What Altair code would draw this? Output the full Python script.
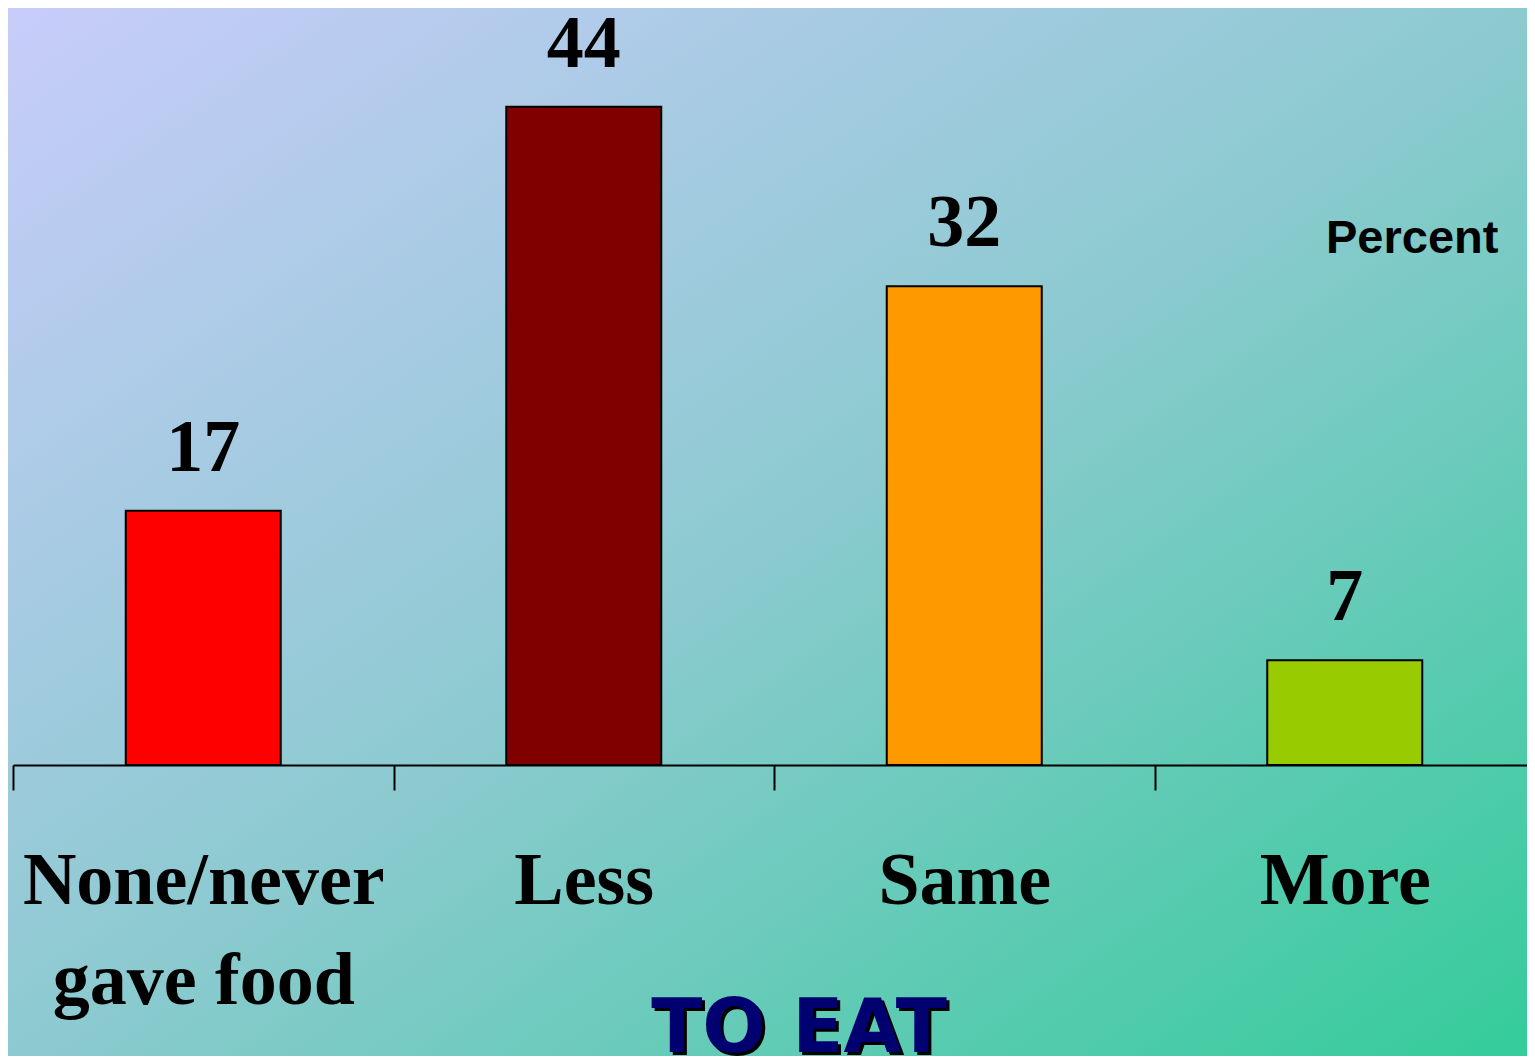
import altair as alt
import pandas as pd

categories = ["None/never\ngave food", "Less", "Same", "More"]
values = [17, 44, 32, 7]
bar_colors = ["#FF0000", "#800000", "#FF9900", "#99CC00"]
unit_label = "Percent"
axis_title = "TO EAT"

df = pd.DataFrame({"cat": categories, "val": values})

W, H = 1514, 748
PAD = {"left": 5, "top": 9, "right": 0, "bottom": 291}

xenc = alt.X(
    "cat:N",
    sort=categories,
    scale=alt.Scale(paddingInner=0, paddingOuter=0, range=[0, 1522]),
    axis=alt.Axis(
        title=None,
        labelAngle=0,
        labelExpr="split(datum.label, '\\n')",
        labelFont="Liberation Serif",
        labelFontWeight="bold",
        labelFontSize=74,
        labelLineHeight=100,
        labelColor="black",
        labelBaseline="top",
        labelPadding=55,
        labelLimit=0,
        labelOverlap=False,
        tickBand="extent",
        tickSize=25,
        tickWidth=2,
        tickColor="black",
        domainColor="black",
        domainWidth=2,
        grid=False,
        zindex=2,
    ),
)
yenc = alt.Y("val:Q", axis=None, scale=alt.Scale(domain=[0, 50]))

bg = alt.Chart(pd.DataFrame({"a": [0]})).mark_rect(
    color=alt.LinearGradient(
        gradient="linear",
        stops=[
            alt.GradientStop(color="#C8CCFA", offset=0),
            alt.GradientStop(color="#8CCAD0", offset=0.5),
            alt.GradientStop(color="#33CC99", offset=1),
        ],
        x1=0, y1=0, x2=1, y2=1,
    )
).encode(
    x=alt.value(-PAD["left"]),
    x2=alt.value(W + 8),
    y=alt.value(-PAD["top"]),
    y2=alt.value(H + PAD["bottom"] + 8),
)

base = alt.Chart(df).encode(x=xenc, y=yenc)

bars = base.mark_bar(size=155, stroke="black", strokeWidth=2).encode(
    color=alt.Color("cat:N", scale=alt.Scale(domain=categories, range=bar_colors), legend=None)
)

labels = base.mark_text(
    font="Liberation Serif", fontWeight="bold", fontSize=74,
    baseline="alphabetic", align="center", dy=-40, color="black"
).encode(text="val:Q")

pct = alt.Chart(pd.DataFrame({"t": [unit_label]})).mark_text(
    font="Liberation Sans", fontWeight="bold", fontSize=47,
    align="left", baseline="alphabetic", color="black"
).encode(text="t:N", x=alt.value(1313), y=alt.value(236))

title_df = pd.DataFrame({"t": [axis_title]})
title_shadow = alt.Chart(title_df).mark_text(
    font="DejaVu Sans", fontWeight="bold", fontSize=75,
    align="center", baseline="alphabetic", color="black"
).encode(text="t:N", x=alt.value(789), y=alt.value(1038))
title_txt = alt.Chart(title_df).mark_text(
    font="DejaVu Sans", fontWeight="bold", fontSize=75,
    align="center", baseline="alphabetic", color="#000070"
).encode(text="t:N", x=alt.value(786), y=alt.value(1035))

chart = alt.layer(bg, bars, labels, pct, title_shadow, title_txt).properties(
    width=W, height=H,
    autosize=alt.AutoSizeParams(type="none"),
    padding=PAD,
).configure_view(stroke=None).configure(background="#8CCAD0")

chart.save("out.html", embed_options={"renderer": "svg", "actions": False})
